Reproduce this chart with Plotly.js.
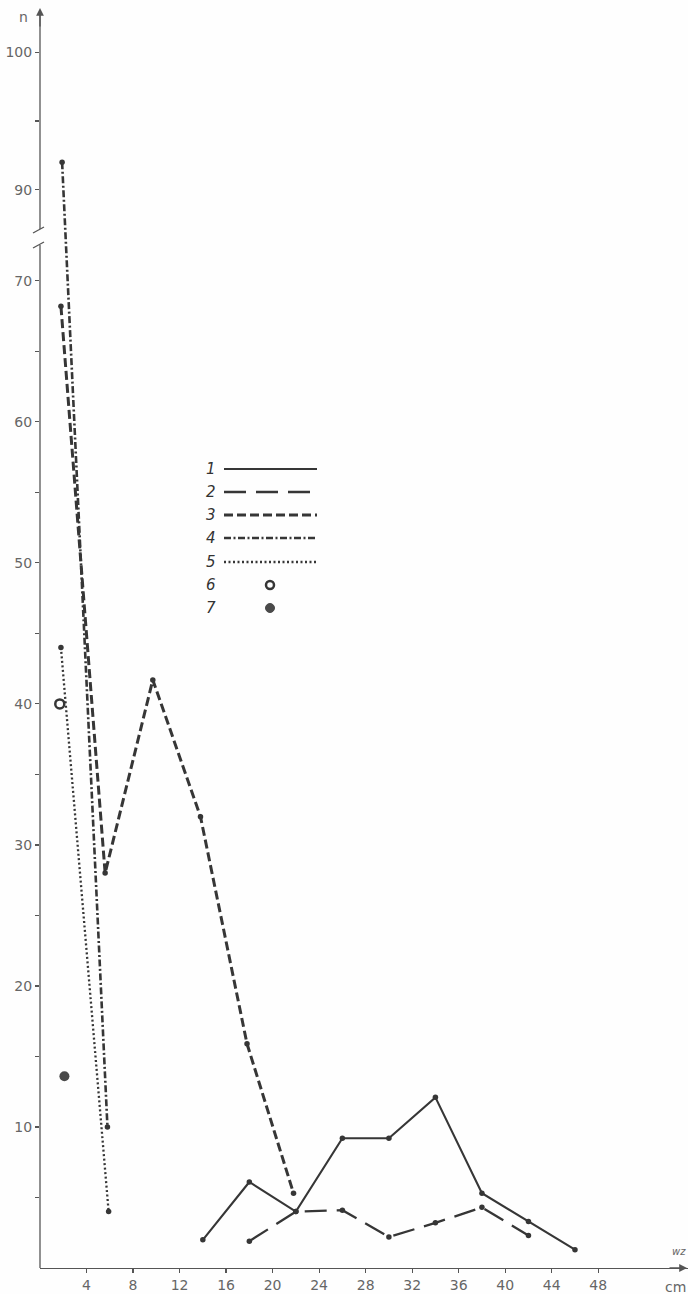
<!DOCTYPE html>
<html>
<head>
<meta charset="utf-8">
<script src="https://cdn.plot.ly/plotly-3.0.1.min.js"></script>
<style>html,body{margin:0;padding:0;background:#fefefe;}</style>
</head>
<body>
<div id="chart" style="width:688px;height:1294px;"></div>
<script>
// ---- data ----
const x1 = [14, 18, 22, 26, 30, 34, 38, 42, 46];
const y1 = [2, 6.1, 4, 9.2, 9.2, 12.1, 5.3, 3.3, 1.3];
const x2 = [18, 22, 26, 30, 34, 38, 42];
const y2 = [1.9, 4, 4.1, 2.2, 3.2, 4.3, 2.3];
const x3 = [1.8, 5.6, 9.7, 13.8, 17.8, 21.8];
const y3 = [68.2, 28, 41.7, 32, 15.9, 5.3];
const x4 = [1.9, 5.8];
const y4 = [92, 10];
const x5 = [1.8, 5.9];
const y5 = [44, 4];
const x6 = [1.7];
const y6 = [40];
const x7 = [2.1];
const y7 = [13.6];
const seriesNames = ['1', '2', '3', '4', '5', '6', '7'];
const xTicks = [4, 8, 12, 16, 20, 24, 28, 32, 36, 40, 44, 48];
const yMajor = [10, 20, 30, 40, 50, 60, 70, 90, 100];
const yMinor = [5, 15, 25, 35, 45, 55, 65, 95];

// broken y axis: values above the break are shifted down
function brk(v) { return v <= 75 ? v : 76.45 + (v - 90) * 0.975; }

const ink = '#363636';
const W = 688, H = 1294, L = 40, R = 0, T = 10, B = 26;
const pw = W - L - R, ph = H - T - B;
const PX = p => (p - L) / pw;
const PY = p => (H - B - p) / ph;

function tr(x, y, dash, width, name) {
  return {
    x: x, y: y.map(brk), mode: 'lines+markers', name: name,
    line: {color: ink, width: width, dash: dash},
    marker: {color: ink, size: 5.5}, showlegend: false, hoverinfo: 'skip'
  };
}
const traces = [
  tr(x1, y1, 'solid', 2.1, seriesNames[0]),
  tr(x2, y2, '22px,10px', 2.3, seriesNames[1]),
  tr(x3, y3, '9px,4px', 3, seriesNames[2]),
  tr(x4, y4, '7px,2.5px,2px,2.5px', 2.6, seriesNames[3]),
  tr(x5, y5, '2px,2.5px', 2.3, seriesNames[4]),
  {x: x6, y: y6.map(brk), mode: 'markers', name: seriesNames[5], showlegend: false, hoverinfo: 'skip',
   marker: {size: 9, color: '#fefefe', line: {color: ink, width: 2.5}}},
  {x: x7, y: y7.map(brk), mode: 'markers', name: seriesNames[6], showlegend: false, hoverinfo: 'skip',
   marker: {size: 10, color: '#4a4a4a'}}
];

const yTickVals = yMajor.concat(yMinor).map(brk);
const yTickText = yMajor.map(String).concat(yMinor.map(() => ''));

const shapes = [];
const annotations = [];
// y axis line with break
const axisCol = '#555';
shapes.push({type: 'line', xref: 'paper', yref: 'paper', x0: 0, x1: 0, y0: 0, y1: PY(245), line: {color: axisCol, width: 1.3}});
shapes.push({type: 'line', xref: 'paper', yref: 'paper', x0: 0, x1: 0, y0: PY(229), y1: PY(14), line: {color: axisCol, width: 1.3}});
shapes.push({type: 'line', xref: 'paper', yref: 'paper', x0: PX(33), x1: PX(44), y0: PY(233), y1: PY(227), line: {color: axisCol, width: 1.3}});
shapes.push({type: 'line', xref: 'paper', yref: 'paper', x0: PX(33), x1: PX(44), y0: PY(248), y1: PY(242), line: {color: axisCol, width: 1.3}});
// arrows
annotations.push({xref: 'paper', yref: 'paper', x: 0, y: PY(8), ax: 0, ay: 20, text: '', showarrow: true,
  arrowhead: 2, arrowsize: 1.2, arrowwidth: 1.3, arrowcolor: axisCol});
annotations.push({xref: 'paper', yref: 'paper', x: PX(688), y: 0, ax: -20, ay: 0, text: '', showarrow: true,
  arrowhead: 2, arrowsize: 1.2, arrowwidth: 1.3, arrowcolor: axisCol});
// axis labels
const lblFont = {family: 'DejaVu Sans', size: 14, color: '#666'};
function txt(x, y, t, f) {
  annotations.push({xref: 'paper', yref: 'paper', x: PX(x), y: PY(y), text: t, showarrow: false,
    xanchor: 'center', yanchor: 'middle', font: f});
}
txt(23, 17, 'n', lblFont);
txt(675, 1287, 'cm', lblFont);
txt(679, 1251, '<i>wz</i>', {family: 'DejaVu Sans', size: 10, color: '#666'});

// legend (drawn by hand)
const legY = [469, 492, 515, 538, 562, 585, 608];
const legDash = ['solid', '22px,10px', '9px,4px', '7px,2.5px,2px,2.5px', '2px,2.5px'];
const legW = [2.1, 2.3, 3, 2.6, 2.3];
seriesNames.forEach((nm, i) => {
  txt(211, legY[i], '<i>' + nm + '</i>', {family: 'DejaVu Sans', size: 15, color: '#333'});
  if (i < 5) {
    shapes.push({type: 'line', xref: 'paper', yref: 'paper', x0: PX(224), x1: PX(317), y0: PY(legY[i]), y1: PY(legY[i]),
      line: {color: ink, width: legW[i], dash: legDash[i]}});
  }
});
const r = 4;
shapes.push({type: 'circle', xref: 'paper', yref: 'paper', x0: PX(270 - r), x1: PX(270 + r), y0: PY(585 + r), y1: PY(585 - r),
  line: {color: ink, width: 2.5}, fillcolor: '#fefefe'});
shapes.push({type: 'circle', xref: 'paper', yref: 'paper', x0: PX(270 - 4.5), x1: PX(270 + 4.5), y0: PY(608 + 4.5), y1: PY(608 - 4.5),
  line: {color: '#4a4a4a', width: 1}, fillcolor: '#4a4a4a'});

const layout = {
  width: W, height: H,
  margin: {l: L, r: R, t: T, b: B, pad: 0},
  paper_bgcolor: '#fefefe', plot_bgcolor: '#fefefe',
  showlegend: false,
  font: {family: 'DejaVu Sans', color: '#666'},
  xaxis: {
    range: [0, pw / 11.63], showgrid: false, zeroline: false,
    showline: true, linecolor: axisCol, linewidth: 1.3,
    tickmode: 'array', tickvals: xTicks, ticktext: xTicks.map(String),
    ticks: 'outside', ticklen: 4, tickcolor: axisCol, tickwidth: 1.2,
    tickfont: {family: 'DejaVu Sans', size: 14, color: '#666'}
  },
  yaxis: {
    range: [0, ph / 14.103], showgrid: false, zeroline: false, showline: false,
    tickmode: 'array', tickvals: yTickVals, ticktext: yTickText,
    ticks: 'outside', ticklen: 4, tickcolor: axisCol, tickwidth: 1.2,
    tickfont: {family: 'DejaVu Sans', size: 14, color: '#666'}
  },
  shapes: shapes,
  annotations: annotations
};

Plotly.newPlot('chart', traces, layout, {displayModeBar: false, staticPlot: true});
</script>
</body>
</html>
